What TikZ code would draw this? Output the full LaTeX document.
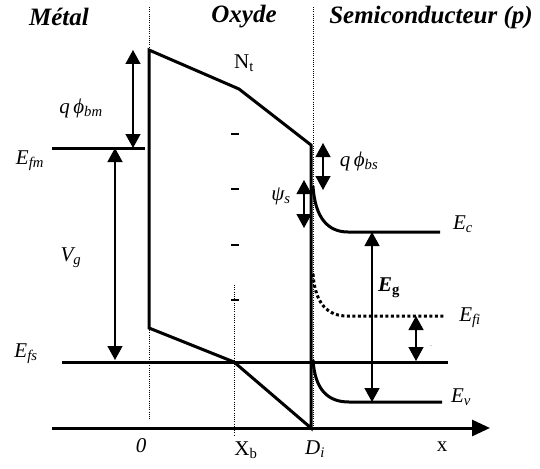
\documentclass[tikz,border=0pt]{standalone}
\usepackage{fontspec}
\setmainfont{Liberation Serif}
\usetikzlibrary{arrows.meta}

\begin{document}
\begin{tikzpicture}[
    x=1pt, y=-1pt,
    band/.style={line width=3pt, line join=miter},
    level/.style={line width=3pt},
    guide/.style={line width=0.9pt, dash pattern=on 1pt off 1.2pt},
    gap/.style={line width=1.3pt, {Triangle[width=15pt,length=14pt]}-{Triangle[width=15pt,length=14pt]}},
    lbl/.style={font=\fontsize{21}{23}\selectfont\itshape, inner sep=0pt},
    rlbl/.style={font=\fontsize{21}{23}\selectfont, inner sep=0pt},
    title/.style={font=\fontsize{25}{28}\selectfont\bfseries\itshape, inner sep=0pt}
]
\useasboundingbox (0,0) rectangle (540,468);

% Titles
\node[title] (metal) at (59,17) {Métal};
\node[title] (oxyde) at (244,17) {Oxyde};
\node[title] (semi) at (431,17) {Semiconducteur (p)};

% Interfaces
\coordinate (mtop) at (149,7);
\coordinate (mbar) at (149,50);
\coordinate (mlow) at (149,328);
\coordinate (mbot) at (149,420);
\coordinate (kink) at (239,89);
\coordinate (xb) at (234,362);
\coordinate (stop) at (311,145);
\coordinate (di) at (311,428);
\draw[guide] (mtop) -- (mbar);
\draw[guide] (mlow) -- (mbot);
\draw[guide] (313.5,7) -- (313.5,428);
\draw[guide] (234,285) -- (234,435);

% Oxide barrier
\draw[band] (mlow) -- (mbar) -- (kink) -- (stop) -- (di) -- (xb) -- cycle;

% Trapped charges
\foreach \y in {134,189,245,300}
    \draw[line width=2pt] (231,\y) -- (239,\y);
\node[rlbl] (nt) at (244,63) {N\textsubscript{t}};

% Fermi levels
\coordinate (efm0) at (52,148);
\coordinate (efm1) at (145,148);
\coordinate (efs0) at (62,362);
\coordinate (efs1) at (448,362);
\draw[level] (efm0) -- (efm1);
\draw[level] (efs0) -- (efs1);
\node[lbl] (efm) at (30,161) {E\textsubscript{fm}};
\node[lbl] (efs) at (26,354) {E\textsubscript{fs}};

% Semiconductor bands
\coordinate (ec0) at (313,186);
\coordinate (ec1) at (348,232);
\coordinate (ec2) at (440,232);
\coordinate (ei0) at (313,274);
\coordinate (ei1) at (347,316);
\coordinate (ei2) at (444,316);
\coordinate (ev0) at (313,360);
\coordinate (ev1) at (349,402);
\coordinate (ev2) at (442,402);
\draw[band] (ec0) .. controls (315,218) and (328,232) .. (ec1) -- (ec2);
\draw[band, dash pattern=on 3pt off 2.5pt] (ei0) .. controls (315,304) and (328,316) .. (ei1) -- (ei2);
\draw[band] (ev0) .. controls (315,390) and (328,402) .. (ev1) -- (ev2);
\node[lbl] (ec) at (463,224) {E\textsubscript{c}};
\node[lbl] (efi) at (470,318) {E\textsubscript{fi}};
\node[lbl] (ev) at (461,397) {E\textsubscript{v}};

% Energy gaps
\draw[gap] (133,50) -- (133,148);
\draw[gap] (115,148) -- (115,360);
\draw[gap] (323,143) -- (323,190);
\draw[gap] (304,180) -- (304,228);
\draw[gap] (372,232) -- (372,402);
\draw[gap] (416,316) -- (416,361);
\node[lbl] (phibm) at (81,108) {q\,ϕ\textsubscript{bm}};
\node[lbl] (vg) at (71,258) {V\textsubscript{g}};
\node[lbl] (phibs) at (359,161) {q\,ϕ\textsubscript{bs}};
\node[lbl] (psis) at (281,196) {ψ\textsubscript{s}};
\node[lbl, font=\fontsize{21}{23}\selectfont\bfseries\itshape] (eg) at (389,288) {E\textsubscript{\upshape g}};
\node[rlbl, font=\fontsize{6}{6}\selectfont, text=gray] (tick) at (431,347) {-};

% Position axis
\coordinate (ax0) at (52,428);
\coordinate (ax1) at (490,428);
\draw[level, -{Triangle[width=16pt,length=18pt]}] (ax0) -- (ax1);
\node[lbl] (zero) at (141,446) {0};
\node[rlbl] (xbl) at (246,450) {X\textsubscript{b}};
\node[lbl] (dil) at (315,449) {D\textsubscript{i}};
\node[rlbl] (xl) at (442,447) {x};

\end{tikzpicture}
\end{document}
